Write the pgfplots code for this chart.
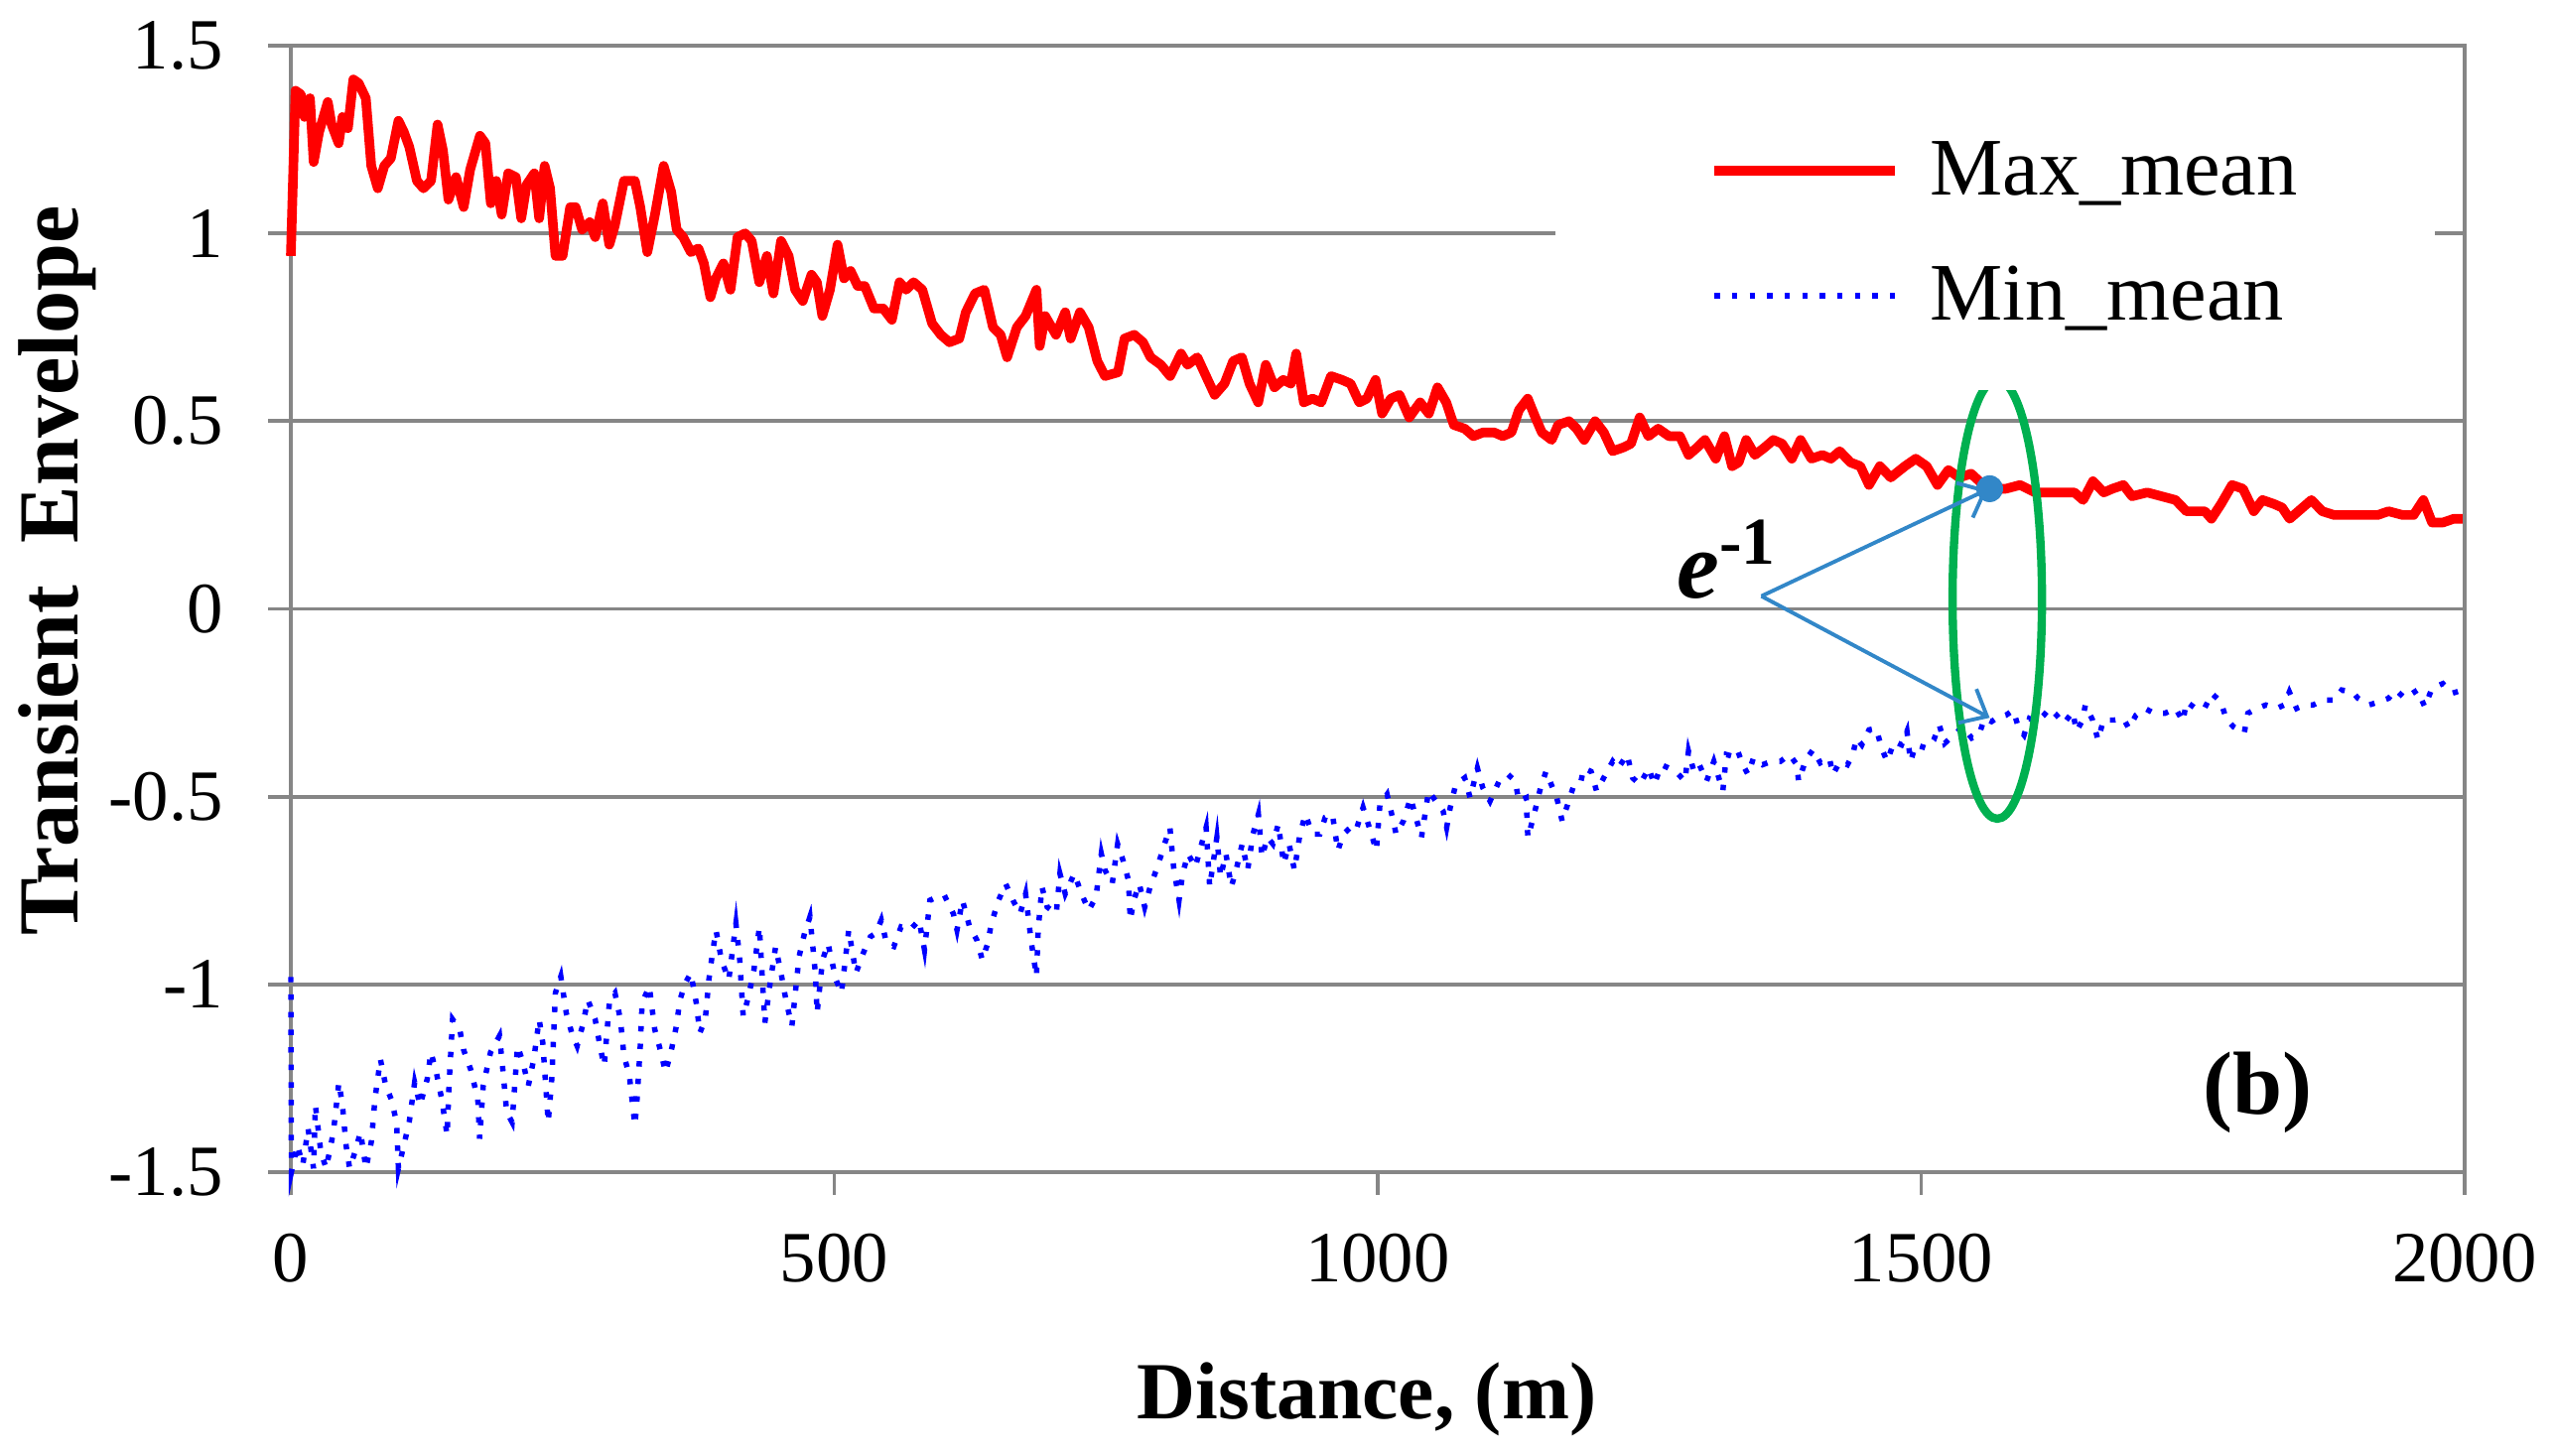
\documentclass[border=0pt]{standalone}
\usepackage{pgfplots}
\pgfplotsset{compat=1.18}
\usepackage{fontspec}
\setmainfont{Liberation Serif}
\usetikzlibrary{arrows.meta}
\definecolor{gridgray}{RGB}{134,134,134}
\definecolor{xlred}{RGB}{255,0,0}
\definecolor{xlblue}{RGB}{0,0,255}
\definecolor{xlgreen}{RGB}{0,176,80}
\definecolor{arrowblue}{RGB}{50,135,200}
\begin{document}
\begin{tikzpicture}
\path[use as bounding box] (-45.55pt,-44.46pt) rectangle (354.45pt,183.6pt);
\begin{axis}[
  at={(0pt,0pt)}, anchor=south west,
  scale only axis, width=340.46pt, height=176.45pt,
  xmin=0, xmax=2000, ymin=-1.5, ymax=1.5,
  clip=false,
  xtick={0,500,1000,1500,2000},
  xticklabels={0,500,1000,1500,2000},
  ytick={-1.5,-1,-0.5,0,0.5,1,1.5},
  yticklabels={-1.5,-1,-0.5,0,0.5,1,1.5},
  ymajorgrids,
  grid style={gridgray, line width=0.62pt},
  axis line style={gridgray, line width=0.62pt},
  tick style={gridgray, line width=0.62pt},
  major tick length=3.5pt, tick align=outside,
  xtick pos=bottom, ytick pos=left,
  ticklabel style={font=\fontsize{11.3}{13}\selectfont, text=black},
  xticklabel style={anchor=north, inner sep=0pt, yshift=-5.9pt},
  yticklabel style={anchor=east, inner sep=0pt, xshift=-6.9pt},
  legend style={at={(rel axis cs:0.5813,0.9736)}, anchor=north west,
    draw=none, fill=white, inner xsep=21.55pt, inner ysep=8pt,
    font=\fontsize{12.8}{15}\selectfont, row sep=6.1pt,
    nodes={inner sep=0pt, text height=10.5pt, text depth=3pt}},
  legend cell align=left,
  legend image code/.code={\path (-2.55pt,0pt); \draw[#1] (0pt,0pt) -- (28.3pt,0pt); \path (33pt,0pt);},
]
% Max_mean
\addplot[xlred, line width=1.5pt, line join=round] coordinates {
(0,0.94) (4.3,1.38) (9.3,1.37) (12.6,1.31) (17.6,1.36) (21,1.19) (26,1.27) (34,1.35) (37.5,1.29) (44,1.24) (47.5,1.31) (52.5,1.28) (57.5,1.41) (62.4,1.40) (69,1.36) (74,1.18) (80,1.12) (86,1.18) (92,1.20) (99,1.30) (104,1.27) (109,1.23) (116,1.14) (122,1.12) (129,1.14) (135,1.29) (140,1.22) (145,1.09) (152,1.15) (159,1.07) (165,1.17) (174,1.26) (179,1.24) (184,1.08) (189,1.14) (194,1.05) (200,1.16) (207,1.15) (212,1.04) (217,1.13) (224,1.16) (228.5,1.04) (233.5,1.18) (238.5,1.12) (243.5,0.94) (250,0.94) (257,1.07) (262,1.07) (268,1.01) (275,1.03) (280,0.99) (287,1.08) (293,0.97) (298,1.02) (306.5,1.14) (316.5,1.14) (321.5,1.07) (328,0.95) (335,1.05) (343,1.18) (350,1.11) (355,1.01) (361,0.99) (368,0.95) (375,0.96) (380,0.92) (386,0.83) (391,0.88) (398,0.92) (404.5,0.85) (411,0.99) (418,1.00) (424,0.98) (431,0.87) (438,0.94) (444,0.84) (451,0.98) (458,0.94) (464,0.85) (471,0.82) (479,0.89) (484,0.87) (489,0.78) (496,0.85) (503,0.97) (509,0.88) (515,0.90) (521.5,0.86) (528,0.86) (536.5,0.80) (545,0.80) (553,0.77) (560,0.87) (566,0.85) (573,0.87) (581,0.85) (590,0.76) (598,0.73) (606,0.71) (615,0.72) (621,0.79) (629.5,0.84) (638,0.85) (646,0.75) (653,0.73) (659,0.67) (668,0.75) (676,0.78) (686,0.85) (689,0.70) (694,0.78) (704,0.73) (712.5,0.79) (717.5,0.72) (726,0.79) (734,0.75) (742,0.66) (749,0.62) (761,0.63) (767,0.72) (776,0.73) (784,0.71) (791,0.67) (800.5,0.65) (809,0.62) (819,0.68) (825,0.65) (834,0.67) (842,0.62) (850,0.57) (859,0.60) (867,0.66) (875,0.67) (882,0.60) (890,0.55) (897,0.65) (905,0.59) (913,0.61) (920,0.60) (925,0.68) (932,0.55) (940,0.56) (948,0.55) (957,0.62) (967,0.61) (975,0.60) (983,0.55) (990,0.56) (998,0.61) (1004,0.52) (1012,0.56) (1020,0.57) (1029,0.51) (1039,0.55) (1047,0.52) (1055,0.59) (1063,0.55) (1070,0.49) (1080,0.48) (1088,0.46) (1097,0.47) (1107,0.47) (1115,0.46) (1123,0.47) (1130,0.53) (1138,0.56) (1145,0.51) (1151,0.47) (1160,0.45) (1166,0.49) (1176,0.50) (1183,0.48) (1190,0.45) (1200,0.50) (1208,0.47) (1216,0.42) (1226,0.43) (1233,0.44) (1241,0.51) (1249,0.46) (1258,0.48) (1268,0.46) (1278,0.46) (1286,0.41) (1294,0.43) (1301,0.45) (1311,0.40) (1319,0.46) (1326,0.38) (1332,0.39) (1339,0.45) (1347,0.41) (1356,0.43) (1364,0.45) (1372,0.44) (1381,0.40) (1389,0.45) (1399,0.40) (1409,0.41) (1417,0.40) (1425,0.42) (1435,0.39) (1444,0.38) (1452,0.33) (1462,0.38) (1472,0.35) (1485,0.38) (1495,0.40) (1505,0.38) (1515,0.33) (1525,0.37) (1535,0.35) (1546,0.36) (1561,0.32) (1578,0.32) (1591,0.33) (1605,0.31) (1618,0.31) (1631,0.31) (1641,0.31) (1649,0.29) (1658,0.34) (1668,0.31) (1676,0.32) (1686,0.33) (1694,0.30) (1708,0.31) (1721,0.30) (1734,0.29) (1744,0.26) (1754,0.26) (1761,0.26) (1767,0.24) (1776,0.28) (1786,0.33) (1796,0.32) (1806,0.26) (1814,0.29) (1824,0.28) (1832,0.27) (1839,0.24) (1847,0.26) (1859,0.29) (1869,0.26) (1880,0.25) (1894,0.25) (1907,0.25) (1920,0.25) (1930,0.26) (1943,0.25) (1953,0.25) (1962,0.29) (1970,0.23) (1980,0.23) (1990,0.24) (1998,0.24)
};
\addlegendentry{Max\_mean}
% Min_mean
\addplot[xlblue, line width=0.85pt, dash pattern=on 0.85pt off 1.9pt] coordinates {
(0,-0.98) (0.5,-1.5) (6.0,-1.428) (11.0,-1.481) (15.9,-1.384) (20.9,-1.490) (22.6,-1.322) (27.6,-1.446) (32.5,-1.490) (39.2,-1.393) (44.2,-1.261) (47.5,-1.322) (50.8,-1.428) (54.1,-1.490) (59.1,-1.446) (64.1,-1.393) (69.1,-1.490) (74.1,-1.419) (77.4,-1.305) (82.4,-1.199) (87.3,-1.270) (92.3,-1.305) (97.3,-1.367) (99.0,-1.490) (104.0,-1.428) (108.9,-1.367) (113.9,-1.261) (118.9,-1.322) (125.5,-1.252) (128.9,-1.181) (133.8,-1.234) (138.8,-1.305) (143.8,-1.402) (145.5,-1.270) (148.8,-1.093) (155.4,-1.120) (158.8,-1.173) (165.4,-1.226) (172.0,-1.305) (173.7,-1.411) (177.0,-1.270) (183.7,-1.181) (192.0,-1.137) (195.3,-1.234) (198.6,-1.340) (203.6,-1.367) (208.6,-1.164) (213.6,-1.208) (218.5,-1.270) (223.5,-1.199) (228.5,-1.093) (231.8,-1.155) (236.8,-1.367) (240.1,-1.252) (243.4,-1.023) (248.4,-0.979) (253.4,-1.076) (258.4,-1.129) (263.4,-1.164) (268.3,-1.111) (273.3,-1.041) (280.0,-1.093) (285.0,-1.173) (288.3,-1.217) (293.3,-1.041) (298.2,-1.023) (303.2,-1.093) (306.5,-1.190) (311.5,-1.243) (316.5,-1.375) (318.2,-1.322) (321.5,-1.164) (323.2,-1.049) (329.8,-1.005) (334.8,-1.120) (339.8,-1.173) (344.7,-1.234) (349.7,-1.181) (354.7,-1.111) (358.0,-1.041) (363.0,-0.996) (368.0,-0.970) (373.0,-1.049) (376.3,-1.129) (381.3,-1.093) (384.6,-0.988) (387.9,-0.917) (391.2,-0.856) (396.2,-0.935) (402.9,-0.988) (409.5,-0.838) (412.8,-0.926) (416.2,-1.085) (421.1,-1.032) (426.1,-0.961) (431.1,-0.847) (436.1,-1.102) (441.0,-0.996) (446.0,-0.900) (451.0,-0.970) (456.0,-1.049) (461.0,-1.111) (467.6,-0.926) (472.6,-0.864) (477.6,-0.820) (482.6,-0.970) (484.2,-1.076) (489.2,-0.935) (494.2,-0.891) (501.6,-0.988) (506.6,-1.023) (513.3,-0.855) (519.9,-0.970) (526.6,-0.917) (533.2,-0.873) (538.2,-0.864) (543.2,-0.829) (548.1,-0.891) (554.8,-0.899) (561.4,-0.847) (569.7,-0.855) (578.0,-0.829) (583.0,-0.908) (588.0,-0.776) (594.6,-0.767) (601.3,-0.763) (609.6,-0.812) (612.9,-0.855) (617.9,-0.776) (624.5,-0.847) (631.2,-0.882) (636.2,-0.935) (641.1,-0.891) (644.5,-0.838) (651.1,-0.776) (657.7,-0.732) (664.4,-0.776) (671.0,-0.812) (676.0,-0.759) (681.0,-0.882) (686.0,-0.979) (687.6,-0.855) (691.0,-0.740) (695.9,-0.794) (704.2,-0.812) (707.6,-0.705) (712.5,-0.759) (720.8,-0.705) (727.5,-0.759) (734.1,-0.803) (740.8,-0.767) (745.7,-0.652) (749.1,-0.696) (755.7,-0.732) (760.7,-0.626) (765.7,-0.670) (770.7,-0.723) (772.3,-0.829) (775.6,-0.776) (780.6,-0.732) (785.6,-0.794) (790.6,-0.740) (797.2,-0.688) (803.9,-0.626) (808.8,-0.582) (812.2,-0.688) (817.2,-0.776) (820.5,-0.705) (825.5,-0.652) (832.1,-0.688) (837.1,-0.635) (842.1,-0.582) (845.4,-0.740) (852.0,-0.608) (855.4,-0.714) (860.3,-0.652) (865.3,-0.740) (870.3,-0.688) (875.3,-0.626) (880.3,-0.696) (885.2,-0.600) (890.2,-0.547) (893.5,-0.661) (898.5,-0.608) (903.5,-0.626) (908.5,-0.573) (913.5,-0.679) (918.4,-0.626) (923.4,-0.696) (928.4,-0.600) (933.4,-0.547) (940.0,-0.600) (946.7,-0.600) (951.7,-0.555) (958.3,-0.547) (963.3,-0.644) (968.3,-0.600) (974.9,-0.582) (979.9,-0.591) (986.5,-0.529) (993.2,-0.591) (998.7,-0.644) (1002,-0.521) (1008.6,-0.494) (1013.6,-0.556) (1016.9,-0.600) (1023.6,-0.565) (1030.2,-0.503) (1035.2,-0.556) (1040.2,-0.609) (1046.8,-0.485) (1053.5,-0.512) (1060.1,-0.538) (1063.4,-0.582) (1066.7,-0.529) (1071.7,-0.468) (1080.0,-0.450) (1085.0,-0.503) (1091.7,-0.424) (1096.6,-0.476) (1103.3,-0.512) (1111.6,-0.459) (1119.9,-0.441) (1126.5,-0.459) (1129.8,-0.512) (1136.5,-0.503) (1138.1,-0.609) (1143.1,-0.556) (1149.8,-0.476) (1154.8,-0.433) (1159.7,-0.468) (1164.7,-0.503) (1169.7,-0.565) (1174.7,-0.521) (1179.7,-0.476) (1186.3,-0.468) (1189.6,-0.424) (1196.3,-0.433) (1201.3,-0.485) (1207.9,-0.450) (1216.2,-0.406) (1221.2,-0.424) (1229.5,-0.388) (1234.5,-0.450) (1241.1,-0.468) (1249.4,-0.424) (1254.4,-0.468) (1261.0,-0.415) (1267.7,-0.424) (1274.3,-0.433) (1282.6,-0.459) (1285.9,-0.379) (1290.9,-0.433) (1295.9,-0.415) (1302.5,-0.459) (1309.2,-0.406) (1317.5,-0.485) (1320.8,-0.388) (1325.8,-0.392) (1330.8,-0.375) (1335.8,-0.415) (1340.7,-0.441) (1345.7,-0.397) (1354.0,-0.415) (1362.3,-0.406) (1370.6,-0.406) (1378.9,-0.388) (1385.6,-0.415) (1387.2,-0.459) (1393.9,-0.401) (1400.5,-0.375) (1407.2,-0.410) (1415.5,-0.397) (1418.8,-0.441) (1425.4,-0.406) (1432.1,-0.415) (1437.1,-0.388) (1440.4,-0.344) (1445.4,-0.362) (1452.0,-0.322) (1458.6,-0.318) (1463.6,-0.371) (1468.6,-0.406) (1475.2,-0.353) (1481.9,-0.362) (1486.9,-0.326) (1490.2,-0.406) (1495,-0.362) (1505,-0.371) (1511.6,-0.349) (1516.6,-0.309) (1521.6,-0.358) (1529.9,-0.336) (1538.2,-0.314) (1546.5,-0.344) (1553.1,-0.336) (1558.1,-0.292) (1564.7,-0.300) (1571.4,-0.287) (1578.0,-0.283) (1584.7,-0.270) (1589.7,-0.318) (1594.6,-0.336) (1599.6,-0.292) (1606.3,-0.300) (1612.9,-0.283) (1617.9,-0.265) (1624.5,-0.283) (1631.2,-0.305) (1639.5,-0.274) (1642.8,-0.326) (1647.8,-0.300) (1651.1,-0.256) (1657.7,-0.296) (1662.7,-0.349) (1667.7,-0.296) (1677.7,-0.296) (1686.0,-0.292) (1691.0,-0.318) (1697.6,-0.283) (1705.9,-0.265) (1714.2,-0.278) (1724.2,-0.278) (1734.1,-0.265) (1740.8,-0.300) (1744.1,-0.247) (1752.4,-0.265) (1760.7,-0.265) (1767.3,-0.225) (1775.6,-0.247) (1780.6,-0.292) (1787.3,-0.314) (1797.2,-0.331) (1800.5,-0.278) (1808.8,-0.265) (1817.2,-0.256) (1827.1,-0.265) (1833.8,-0.256) (1838.7,-0.221) (1845.4,-0.265) (1852.0,-0.256) (1860.3,-0.256) (1870.3,-0.243) (1880.3,-0.243) (1886.9,-0.216) (1896.9,-0.221) (1901.8,-0.238) (1911.8,-0.256) (1921.8,-0.247) (1930.1,-0.238) (1936.7,-0.216) (1945.0,-0.238) (1956.6,-0.216) (1963.3,-0.261) (1969.9,-0.212) (1979.9,-0.199) (1988.2,-0.225) (1998.2,-0.216)
};
\addlegendentry{Min\_mean}
% annotations
\draw[xlgreen, line width=1.3pt] (axis cs:1570,0.026) ellipse [x radius=7pt, y radius=34.4pt];
\draw[arrowblue, line width=0.6pt, -{Straight Barb[length=3.5pt,width=6pt]}] (axis cs:1353,0.034) -- (axis cs:1561,0.318);
\draw[arrowblue, line width=0.6pt, -{Straight Barb[length=3.5pt,width=6pt]}] (axis cs:1353,0.034) -- (axis cs:1563,-0.29);
\fill[arrowblue] (axis cs:1563,0.32) circle[radius=2.1pt];
\node[anchor=base west, inner sep=0pt, font=\fontsize{15}{18}\selectfont\bfseries] at (axis cs:1274,0.03) {\textit{e}\textsuperscript{-1}};
\node[anchor=center, inner sep=0pt, font=\fontsize{14}{17}\selectfont\bfseries] at (axis cs:1810,-1.287) {(b)};
\node[anchor=base, inner sep=0pt, font=\fontsize{12.7}{15}\selectfont\bfseries] at (rel axis cs:0.495,-0.2188) {Distance, (m)};
\node[anchor=base, rotate=90, inner sep=0pt, font=\fontsize{13.4}{16}\selectfont\bfseries] at (rel axis cs:-0.0978,0.534) {Transient\ \ Envelope};
\end{axis}
\end{tikzpicture}
\end{document}
